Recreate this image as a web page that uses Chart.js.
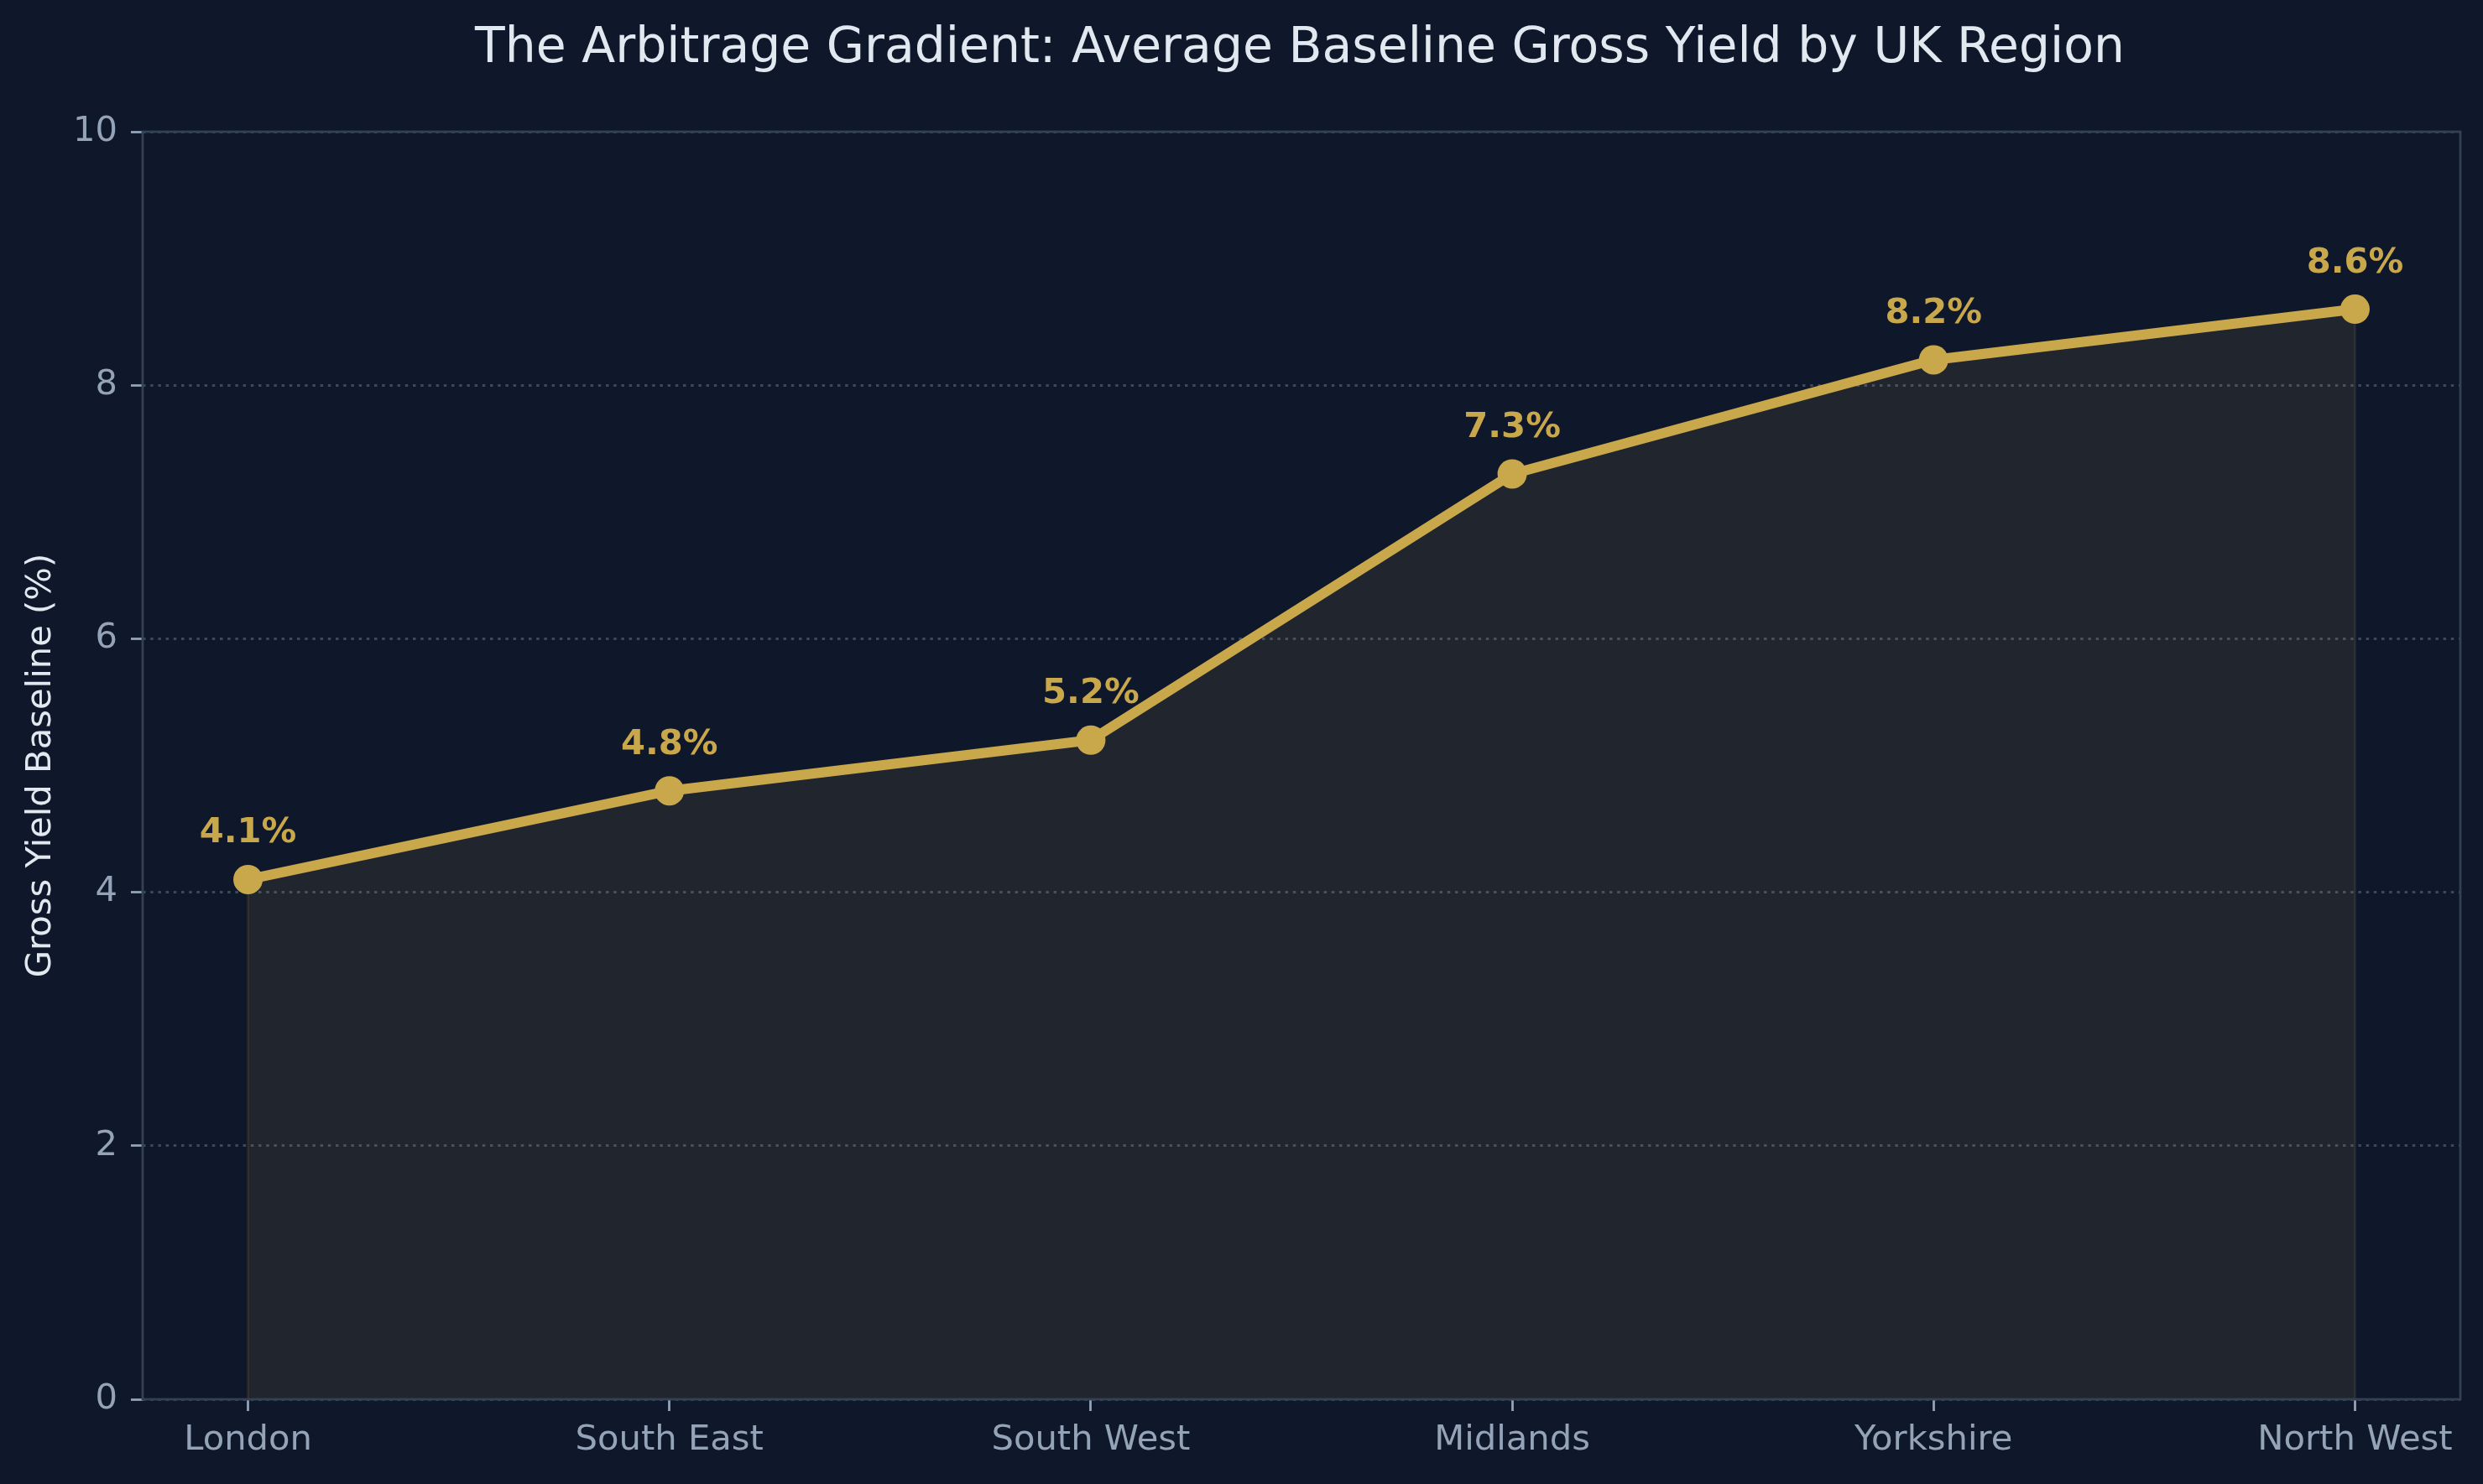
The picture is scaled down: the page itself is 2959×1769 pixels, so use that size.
<!DOCTYPE html>
<html>
<head>
<meta charset="utf-8">
<script src="https://cdn.jsdelivr.net/npm/chart.js@4/dist/chart.umd.min.js"></script>
<style>
  html, body { margin: 0; padding: 0; background: #0f172a; }
  #wrap { width: 2959px; height: 1769px; }
</style>
</head>
<body>
<div id="wrap"><canvas id="chart" width="2959" height="1769"></canvas></div>
<script>
// Data
const regions = ['London', 'South East', 'South West', 'Midlands', 'Yorkshire', 'North West'];
const yieldValues = [4.1, 4.8, 5.2, 7.3, 8.2, 8.6];
const yTicks = [0, 2, 4, 6, 8, 10];

const GOLD = '#c9a84c';
const FONT = "'DejaVu Sans', sans-serif";

// Draw the title, value labels, fill edges and the axes box
const decorPlugin = {
    id: 'decor',
    beforeDatasetsDraw(chart) {
        const ctx = chart.ctx;
        const area = chart.chartArea;
        const pts = chart.getDatasetMeta(0).data;
        ctx.save();
        ctx.strokeStyle = 'rgba(201,168,76,0.12)';
        ctx.lineWidth = 3;
        [pts[0], pts[pts.length - 1]].forEach(p => {
            ctx.beginPath();
            ctx.moveTo(p.x, p.y);
            ctx.lineTo(p.x, area.bottom);
            ctx.stroke();
        });
        ctx.restore();
    },
    afterDraw(chart) {
        const ctx = chart.ctx;
        const area = chart.chartArea;
        ctx.save();

        // axes box
        ctx.strokeStyle = '#334155';
        ctx.lineWidth = 2.8;
        ctx.strokeRect(area.left, area.top, area.right - area.left, area.bottom - area.top);

        // title
        ctx.fillStyle = '#e2e8f0';
        ctx.font = '58.4px ' + FONT;
        ctx.textAlign = 'center';
        ctx.textBaseline = 'middle';
        ctx.fillText('The Arbitrage Gradient: Average Baseline Gross Yield by UK Region',
            (area.left + area.right) / 2 - 2, 59);

        // value labels
        ctx.fillStyle = GOLD;
        ctx.font = 'bold 41.7px ' + FONT;
        ctx.textBaseline = 'alphabetic';
        chart.getDatasetMeta(0).data.forEach((p, i) => {
            ctx.fillText(yieldValues[i].toFixed(1) + '%', p.x, p.y - 44);
        });
        ctx.restore();
    }
};

new Chart(document.getElementById('chart'), {
    type: 'line',
    data: {
        datasets: [{
            label: 'Gross Yield Baseline',
            data: yieldValues.map((v, i) => ({ x: i, y: v })),
            borderColor: GOLD,
            borderWidth: 12,
            pointRadius: 17.5,
            pointHoverRadius: 17.5,
            pointBackgroundColor: GOLD,
            pointBorderWidth: 0,
            fill: 'origin',
            backgroundColor: 'rgba(201,168,76,0.1)',
            tension: 0
        }]
    },
    options: {
        responsive: false,
        animation: false,
        layout: { padding: { top: 157, right: 27, left: 0, bottom: 0 } },
        plugins: {
            legend: { display: false },
            tooltip: { enabled: false },
            title: { display: false }
        },
        scales: {
            x: {
                type: 'linear',
                min: -0.25,
                max: 5.25,
                afterBuildTicks: scale => {
                    scale.ticks = regions.map((_, i) => ({ value: i }));
                },
                afterFit: scale => { scale.height = 101; },
                ticks: {
                    color: '#94a3b8',
                    font: { family: FONT, size: 41.7 },
                    padding: 10,
                    maxRotation: 0,
                    autoSkip: false,
                    callback: v => regions[v]
                },
                grid: {
                    drawOnChartArea: false,
                    drawTicks: true,
                    tickLength: 14,
                    tickColor: '#94a3b8',
                    tickWidth: 2.8
                },
                border: { display: false }
            },
            y: {
                min: 0,
                max: 10,
                afterBuildTicks: scale => {
                    scale.ticks = yTicks.map(v => ({ value: v }));
                },
                afterFit: scale => { scale.width = 170; },
                title: {
                    display: true,
                    text: 'Gross Yield Baseline (%)',
                    color: '#e2e8f0',
                    font: { family: FONT, size: 41.7 },
                    padding: { top: 24, bottom: 0 }
                },
                ticks: {
                    color: '#94a3b8',
                    font: { family: FONT, size: 41.7 },
                    padding: 16
                },
                grid: {
                    color: 'rgba(148,163,184,0.35)',
                    lineWidth: 3,
                    tickLength: 14,
                    tickColor: '#94a3b8',
                    tickWidth: 2.8,
                    tickBorderDash: []
                },
                border: { display: false, dash: [3.5, 5.7] }
            }
        }
    },
    plugins: [decorPlugin]
});
</script>
</body>
</html>
